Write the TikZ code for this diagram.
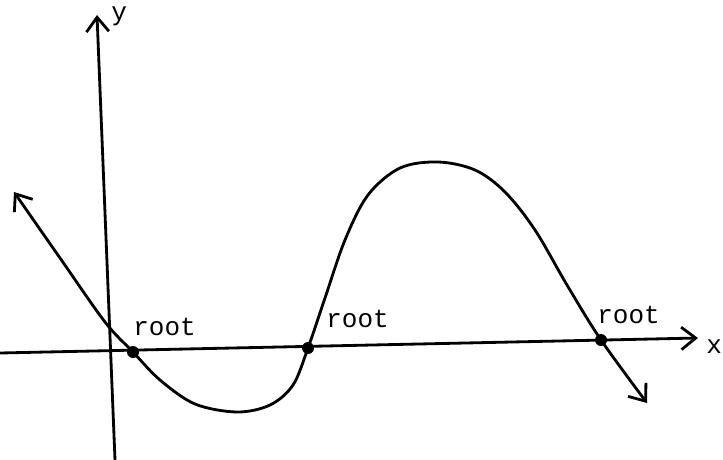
\documentclass[tikz,border=0pt]{standalone}
\usepackage{fontspec}
\setmonofont{Liberation Mono}
\usepackage{tikz}
\usetikzlibrary{arrows.meta,positioning}

\begin{document}
\begin{tikzpicture}[
    x=0.025cm, y=-0.025cm,
    axis/.style={line width=2pt, -{Straight Barb[length=3.6mm, width=5.6mm, line width=2pt]}},
    func/.style={line width=2pt, {Straight Barb[length=3.6mm, width=5.6mm, line width=2pt]}-{Straight Barb[length=3.6mm, width=5.6mm, line width=2pt]}},
    rootdot/.style={circle, fill=black, inner sep=0pt, minimum size=3mm},
    lbl/.style={font=\fontsize{18.5}{21}\selectfont\ttfamily, inner sep=0pt, anchor=base west}
]
    \useasboundingbox (0,0) rectangle (723,460);

    % axes
    \coordinate (xl) at (0,353);
    \coordinate (xr) at (698,338);
    \coordinate (yb) at (115,460);
    \coordinate (yt) at (97,15);
    \draw[axis] (xl) -- (xr);
    \draw[axis] (yb) -- (yt);
    \node[lbl] (ylab) at (111,21) {y};
    \node[lbl] (xlab) at (706,353) {x};

    % the function
    \draw[func] plot[smooth, tension=0.55] coordinates {
        (14,192) (60,258) (105,322) (133,352) (160,380) (195,404) (237,412)
        (270,405) (293,385) (308,348) (325,298) (345,240) (368,195) (400,168)
        (438,162) (475,170) (505,192) (535,230) (567,285) (601,340) (647,403)};

    % roots
    \node[rootdot] (r1) at (133,352) {};
    \node[rootdot] (r2) at (308,348) {};
    \node[rootdot] (r3) at (601,340) {};
    \node[lbl] (l1) at (133,335) {root};
    \node[lbl] (l2) at (326,327) {root};
    \node[lbl] (l3) at (597,323) {root};
\end{tikzpicture}
\end{document}
